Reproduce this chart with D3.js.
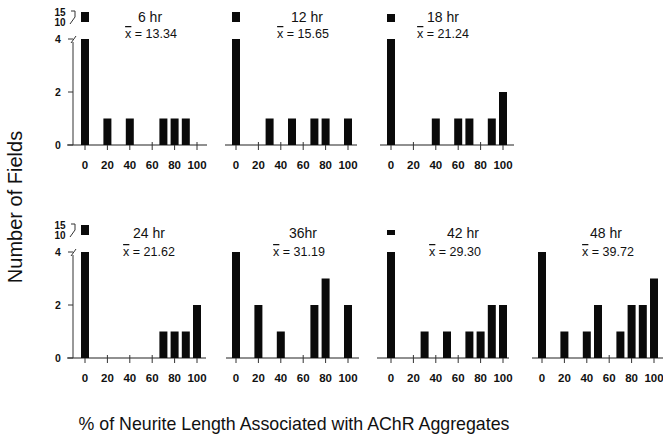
<!DOCTYPE html>
<html>
<head>
<meta charset="utf-8">
<script src="https://cdn.jsdelivr.net/npm/d3@7"></script>
<style>
  html, body { margin: 0; padding: 0; background: #fff; }
  svg { display: block; }
  text { font-family: "Liberation Sans", Arial, Helvetica, sans-serif; fill: #111; }
</style>
</head>
<body>
<svg id="chart" width="663" height="437"></svg>
<script>
// ---------- data ----------
const panelTitles = ["6 hr", "12 hr", "18 hr", "24 hr", "36hr", "42 hr", "48 hr"];
const meanLabels  = ["13.34", "15.65", "21.24", "21.62", "31.19", "29.30", "39.72"];
const xTickLabels = [0, 20, 40, 60, 80, 100];
const yTickLabels = [0, 2, 4];
const yBreakLabels = [10, 15];

const bins6h  = [0, 20, 40, 70, 80, 90];
const count6h = [15, 1, 1, 1, 1, 1];
const bins12h  = [0, 30, 50, 70, 80, 100];
const count12h = [15, 1, 1, 1, 1, 1];
const bins18h  = [0, 40, 60, 70, 90, 100];
const count18h = [14, 1, 1, 1, 1, 2];
const bins24h  = [0, 70, 80, 90, 100];
const count24h = [15, 1, 1, 1, 2];
const bins36h  = [0, 20, 40, 70, 80, 100];
const count36h = [4, 2, 1, 2, 3, 2];
const bins42h  = [0, 30, 50, 70, 80, 90, 100];
const count42h = [12.5, 1, 1, 1, 1, 2, 2];
const bins48h  = [0, 20, 40, 50, 70, 80, 90, 100];
const count48h = [4, 1, 1, 2, 1, 2, 2, 3];

const panelBins   = [bins6h, bins12h, bins18h, bins24h, bins36h, bins42h, bins48h];
const panelCounts = [count6h, count12h, count18h, count24h, count36h, count42h, count48h];

// ---------- layout ----------
const colX0 = [85, 236, 391, 542];     // pixel x of value 0 per column
const rowBase = [145, 358];            // pixel y of count 0 per row
const panelCell = [[0,0],[0,1],[0,2],[1,0],[1,1],[1,2],[1,3]];
const titleDx = [65, 71, 52, 64, 67, 72, 64];
const meanDx  = [66, 67, 52, 64, 63, 64, 66];
const axisExt = [[-18,122],[-11,121],[-11,123],[-18,121],[-10,123],[-14,118],[-10,122]];
const hasYAxis = [true, false, false, true, false, false, false];
const titleY = [[-123, -107], [-120, -102]];
const barW = 8;
const xSpan = 112, lowSpan = 106;

const svg = d3.select("#chart");

panelTitles.forEach((title, i) => {
  const [r, c] = panelCell[i];
  const x0 = colX0[c], base = rowBase[r];
  const x = d3.scaleLinear().domain([0, 100]).range([x0, x0 + xSpan]);
  const yLow = d3.scaleLinear().domain([0, 4]).range([base, base - lowSpan]);
  const yHigh = d3.scaleLinear().domain([10, 15]).range([base - 123, base - 133]);
  const g = svg.append("g");

  // x axis line
  g.append("line")
    .attr("x1", x0 + axisExt[i][0]).attr("x2", x0 + axisExt[i][1])
    .attr("y1", base).attr("y2", base)
    .attr("stroke", "#222").attr("stroke-width", 1.2);

  // x ticks
  g.selectAll(".xt").data(xTickLabels).enter().append("line")
    .attr("x1", d => x(d)).attr("x2", d => x(d))
    .attr("y1", base - 3).attr("y2", base + 5)
    .attr("stroke", "#333").attr("stroke-width", 1);
  g.selectAll(".xl").data(xTickLabels).enter().append("text")
    .attr("x", d => x(d)).attr("y", base + 24)
    .attr("text-anchor", "middle")
    .attr("font-size", 11.5).attr("font-weight", "bold")
    .text(d => d);

  // y axis (only first column panels)
  if (hasYAxis[i]) {
    const ax = x0 - 12;
    g.append("line").attr("x1", ax).attr("x2", ax)
      .attr("y1", base).attr("y2", yLow(4) + 3)
      .attr("stroke", "#333").attr("stroke-width", 1);
    g.selectAll(".yt").data(yTickLabels).enter().append("line")
      .attr("x1", ax - 5).attr("x2", ax)
      .attr("y1", d => yLow(d)).attr("y2", d => yLow(d))
      .attr("stroke", "#333").attr("stroke-width", 1);
    g.selectAll(".yl").data(yTickLabels).enter().append("text")
      .attr("x", ax - 15).attr("y", d => yLow(d) + 4)
      .attr("text-anchor", "middle")
      .attr("font-size", 10.5).attr("font-weight", "bold")
      .text(d => d);
    // break slash
    g.append("path")
      .attr("d", `M${ax - 2},${yLow(4) + 4} L${ax + 3},${yLow(4) - 3}`)
      .attr("stroke", "#333").attr("fill", "none").attr("stroke-width", 1);
    // upper break labels
    g.selectAll(".ybl").data(yBreakLabels).enter().append("text")
      .attr("x", ax - 13).attr("y", d => yHigh(d) + 4)
      .attr("text-anchor", "middle")
      .attr("font-size", 10).attr("font-weight", "bold")
      .text(d => d);
    g.append("path")
      .attr("d", `M${ax - 2},${yHigh(15) - 1} L${ax + 2},${yHigh(15) - 1} L${ax + 2},${yHigh(12.5)} L${ax - 3},${yHigh(10) + 2}`)
      .attr("stroke", "#333").attr("fill", "none").attr("stroke-width", 1);
  }

  // bars
  const data = panelBins[i].map((b, k) => ({ b, v: panelCounts[i][k] }));
  g.selectAll(".bar").data(data).enter().append("rect")
    .attr("x", d => x(d.b) - barW / 2)
    .attr("width", barW)
    .attr("y", d => yLow(Math.min(d.v, 4)))
    .attr("height", d => base - yLow(Math.min(d.v, 4)))
    .attr("fill", "#0a0a0a");
  // broken upper blocks
  g.selectAll(".blk").data(data.filter(d => d.v > 4)).enter().append("rect")
    .attr("x", d => x(d.b) - barW / 2)
    .attr("width", barW)
    .attr("y", d => yHigh(d.v))
    .attr("height", d => yHigh(10) - yHigh(d.v))
    .attr("fill", "#0a0a0a");

  // titles
  g.append("text")
    .attr("x", x0 + titleDx[i]).attr("y", base + titleY[r][0])
    .attr("text-anchor", "middle").attr("font-size", 14)
    .text(title);
  const mt = g.append("text")
    .attr("x", x0 + meanDx[i]).attr("y", base + titleY[r][1])
    .attr("text-anchor", "middle").attr("font-size", 12.5);
  mt.append("tspan").style("text-decoration", "overline").text("x");
  mt.append("tspan").text(" = " + meanLabels[i]);
});

// axis titles
svg.append("text")
  .attr("transform", "translate(22,207) rotate(-90)")
  .attr("text-anchor", "middle").attr("font-size", 20)
  .text("Number of Fields");
svg.append("text")
  .attr("x", 294).attr("y", 430)
  .attr("text-anchor", "middle").attr("font-size", 17.8)
  .text("% of Neurite Length Associated with AChR Aggregates");
</script>
</body>
</html>
